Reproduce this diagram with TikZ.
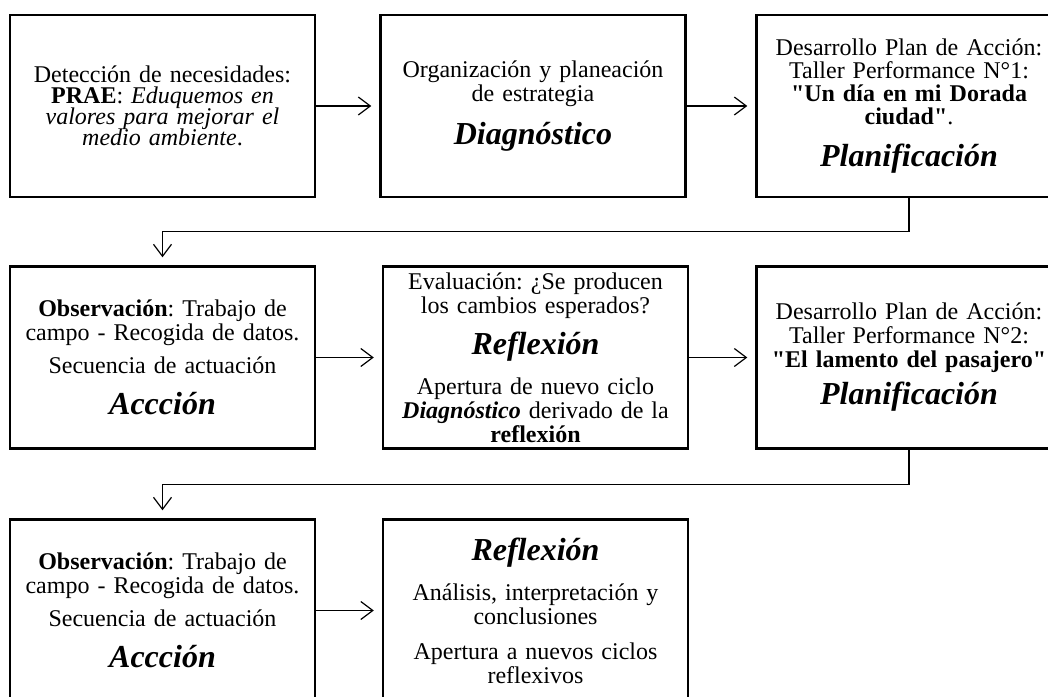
\documentclass[tikz,border=0pt]{standalone}
\usepackage{fontspec}
\setmainfont{Liberation Serif}[Ligatures=TeXOff]
\usetikzlibrary{arrows.meta}
\newcommand{\stagename}[1]{{\fontsize{16}{16}\selectfont\bfseries\itshape #1}}

\begin{document}
\begin{tikzpicture}[x=0.5pt,y=-0.5pt,
  stagebox/.style={draw, line width=1.2pt, minimum width=152.5pt, minimum height=91pt,
    inner sep=0pt, text width=149pt, align=center,
    font={\fontsize{12}{12}\selectfont\frenchspacing\lineskiplimit=-100pt}},
  flow/.style={line width=0.6pt, -{Straight Barb[length=6pt,width=9pt]}, shorten >=4pt}]

% Fix the frame (the right column and the last row run past it)
  \useasboundingbox (0,0) rectangle (1048,696);
  \clip (0,0) rectangle (1048,696);

% First cycle
  \node[stagebox, font={\fontsize{12}{10.5}\selectfont\frenchspacing\lineskiplimit=-100pt}] (detect) at (162.5,106)
    {Detección de necesidades:\\ \textbf{PRAE}: \textit{Eduquemos en}\\
     \textit{valores para mejorar el}\\ \textit{medio ambiente}.};
  \node[stagebox] (diagnos) at (533,106)
    {Organización y planeación\\ de estrategia\\[9.5pt] \stagename{Diagnóstico}};
  \node[stagebox, font={\fontsize{12}{11.5}\selectfont\frenchspacing\lineskiplimit=-100pt}] (plan1) at (909,106)
    {Desarrollo Plan de Acción:\\ Taller Performance N°1:\\ \textbf{"Un día en mi Dorada}\\
     \textbf{ciudad"}.\\[9.5pt] \stagename{Planificación}};

% Second cycle
  \node[stagebox] (accion1) at (162.5,357.5)
    {\textbf{Observación}: Trabajo de\\ campo - Recogida de datos.\\[4.5pt]
     Secuencia de actuación\\[8.5pt] \stagename{Accción}};
  \node[stagebox] (reflex1) at (535.5,357.5)
    {Evaluación: ¿Se producen\\ los cambios esperados?\\[8.5pt] \stagename{Reflexión}\\[8pt]
     Apertura de nuevo ciclo\\ \textbf{\textit{Diagnóstico}} derivado de la\\ \textbf{reflexión}};
  \node[stagebox] (plan2) at (909,357.5)
    {Desarrollo Plan de Acción:\\ Taller Performance N°2:\\ \textbf{"El lamento del pasajero"}\\[6.5pt]
     \stagename{Planificación}};

% Third cycle
  \node[stagebox] (accion2) at (162.5,610.5)
    {\textbf{Observación}: Trabajo de\\ campo - Recogida de datos.\\[4.5pt]
     Secuencia de actuación\\[8.5pt] \stagename{Accción}};
  \node[stagebox] (reflex2) at (535.5,610.5)
    {\stagename{Reflexión}\\[8pt] Análisis, interpretación y\\ conclusiones\\[5.5pt]
     Apertura a nuevos ciclos\\ reflexivos};

% Draw the arrows between the stages
  \draw[flow] (detect) -- (diagnos);
  \draw[flow] (diagnos) -- (plan1);
  \draw[flow] (plan1.south) -- ++(0,33) -| (accion1.north);
  \draw[flow] (accion1) -- (reflex1);
  \draw[flow] (reflex1) -- (plan2);
  \draw[flow] (plan2.south) -- ++(0,35) -| (accion2.north);
  \draw[flow] (accion2) -- (reflex2);

\end{tikzpicture}
\end{document}
